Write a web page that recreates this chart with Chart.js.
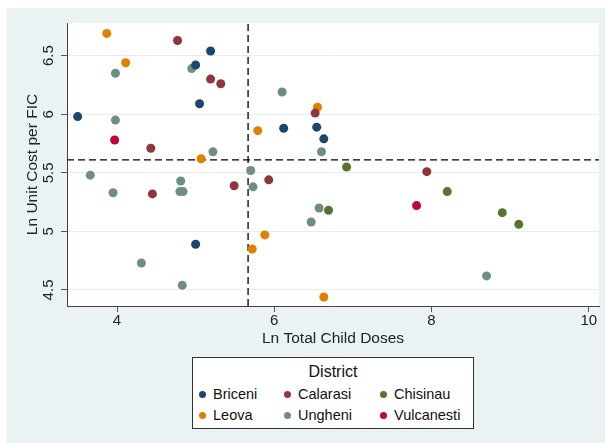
<!DOCTYPE html>
<html>
<head>
<meta charset="utf-8">
<script src="https://cdn.jsdelivr.net/npm/chart.js@4/dist/chart.umd.min.js"></script>
<style>
  body { margin: 0; background: #fff; font-family: 'Liberation Sans', Arial, sans-serif; }
  #wrap { position: absolute; left: 7px; top: 8px; width: 598px; height: 435px; background: #eaf2f3; }
  #chart { position: absolute; left: 0; top: 0; }
  #legend {
    position: absolute; left: 185px; top: 349px; width: 282px; height: 72px;
    box-sizing: border-box; background: #fff; border: 1px solid #333; color: #111;
  }
  #legend .title { text-align: center; font-size: 16px; line-height: 18px; margin-top: 5px; }
  #legend .items { display: grid; grid-template-columns: 85px 96px auto; grid-auto-rows: 21px; padding-left: 6px; margin-top: 3px; }
  #legend .item { font-size: 14.5px; line-height: 21px; white-space: nowrap; }
  #legend .dot { display: inline-block; width: 7px; height: 7px; border-radius: 50%; margin-right: 7px; vertical-align: 1px; }
</style>
</head>
<body>
<div id="wrap">
  <canvas id="chart" width="598" height="435"></canvas>
  <div id="legend"></div>
</div>
<script>
// districts and their colours
const districts = ['Briceni', 'Calarasi', 'Chisinau', 'Leova', 'Ungheni', 'Vulcanesti'];
const colors = ['#1a476f', '#90353b', '#55752f', '#e37e00', '#6e8e84', '#c10534'];

// Ln total child doses (x) / Ln unit cost per FIC (y)
const briceniX = [5.19, 5.00, 5.05, 3.50, 6.12, 6.54, 6.63, 5.00];
const briceniY = [6.54, 6.42, 6.09, 5.98, 5.88, 5.89, 5.79, 4.89];
const calarasiX = [4.77, 5.19, 5.32, 4.43, 6.52, 7.94, 4.45, 5.49, 5.93];
const calarasiY = [6.63, 6.30, 6.26, 5.71, 6.01, 5.51, 5.32, 5.39, 5.44];
const chisinauX = [6.92, 8.20, 6.69, 8.90, 9.11];
const chisinauY = [5.55, 5.34, 5.18, 5.16, 5.06];
const leovaX = [3.87, 4.11, 5.79, 5.07, 6.55, 5.72, 5.88, 6.63];
const leovaY = [6.69, 6.44, 5.86, 5.62, 6.06, 4.85, 4.97, 4.44];
const ungheniX = [4.95, 3.98, 3.98, 5.22, 5.70, 6.10, 6.60, 3.66, 3.95, 4.81, 4.80, 4.84, 5.73, 4.31, 4.83, 6.57, 6.47, 8.70];
const ungheniY = [6.39, 6.35, 5.95, 5.68, 5.52, 6.19, 5.68, 5.48, 5.33, 5.43, 5.34, 5.34, 5.38, 4.73, 4.54, 5.20, 5.08, 4.62];
const vulcanestiX = [3.97, 7.81];
const vulcanestiY = [5.78, 5.22];

// reference lines (means)
const xMeanLine = 5.667;
const yMeanLine = 5.61;

// axis ticks
const xTicks = [4, 6, 8, 10];
const yTicks = [4.5, 5, 5.5, 6, 6.5];

const xs = [briceniX, calarasiX, chisinauX, leovaX, ungheniX, vulcanestiX];
const ys = [briceniY, calarasiY, chisinauY, leovaY, ungheniY, vulcanestiY];

const datasets = districts.map((name, i) => ({
    label: name,
    data: xs[i].map((x, j) => ({ x: x, y: ys[i][j] })),
    backgroundColor: colors[i],
    borderWidth: 0,
    pointRadius: 4.5,
    pointHoverRadius: 4.5
}));

// white plot region
const plotBg = {
    id: 'plotBg',
    beforeDraw(chart) {
        const a = chart.chartArea;
        const ctx = chart.ctx;
        ctx.save();
        ctx.fillStyle = '#fff';
        ctx.fillRect(a.left, a.top, a.right - a.left, a.bottom - a.top);
        ctx.restore();
    }
};

// dashed lines at the means
const meanLines = {
    id: 'meanLines',
    beforeDatasetsDraw(chart) {
        const a = chart.chartArea;
        const ctx = chart.ctx;
        const px = chart.scales.x.getPixelForValue(xMeanLine);
        const py = chart.scales.y.getPixelForValue(yMeanLine);
        ctx.save();
        ctx.strokeStyle = '#000';
        ctx.lineWidth = 1.3;
        ctx.setLineDash([7, 4]);
        ctx.beginPath();
        ctx.moveTo(px, a.bottom);
        ctx.lineTo(px, a.top);
        ctx.moveTo(a.left, py);
        ctx.lineTo(a.right, py);
        ctx.stroke();
        ctx.restore();
    }
};

Chart.defaults.font.family = "'Liberation Sans', Arial, sans-serif";
Chart.defaults.color = '#222';

new Chart(document.getElementById('chart').getContext('2d'), {
    type: 'scatter',
    data: { datasets: datasets },
    plugins: [plotBg, meanLines],
    options: {
        responsive: false,
        animation: false,
        layout: { padding: { top: 15, right: 6, bottom: 95, left: 0 } },
        plugins: {
            legend: { display: false },
            tooltip: { enabled: false }
        },
        scales: {
            x: {
                type: 'linear',
                min: 3.364,
                max: 10.13,
                afterBuildTicks: scale => { scale.ticks = xTicks.map(v => ({ value: v })); },
                afterFit: scale => { scale.height = 42; },
                grid: { drawOnChartArea: false, tickLength: 6, tickColor: '#555' },
                border: { color: '#444', width: 1 },
                ticks: { font: { size: 15 }, padding: 0, maxRotation: 0, callback: v => String(v) },
                title: { display: true, text: 'Ln Total Child Doses', font: { size: 15.5 }, padding: 0 }
            },
            y: {
                type: 'linear',
                min: 4.363,
                max: 6.779,
                afterBuildTicks: scale => { scale.ticks = yTicks.map(v => ({ value: v })); },
                afterFit: scale => { scale.width = 60; },
                grid: { color: '#e6eef0', lineWidth: 1, tickLength: 6, tickColor: '#555' },
                border: { color: '#444', width: 1 },
                ticks: { font: { size: 15 }, padding: 1.5, minRotation: 90, maxRotation: 90, crossAlign: 'center', callback: v => String(v) },
                title: { display: true, text: 'Ln Unit Cost per FIC', font: { size: 15.5 }, padding: { top: 16.7, bottom: 0 } }
            }
        }
    }
});

// legend in a 3-column grid
const legend = document.getElementById('legend');
let html = '<div class="title">District</div><div class="items">';
districts.forEach((name, i) => {
    html += '<div class="item"><span class="dot" style="background:' + colors[i] + '"></span>' + name + '</div>';
});
html += '</div>';
legend.innerHTML = html;
</script>
</body>
</html>
